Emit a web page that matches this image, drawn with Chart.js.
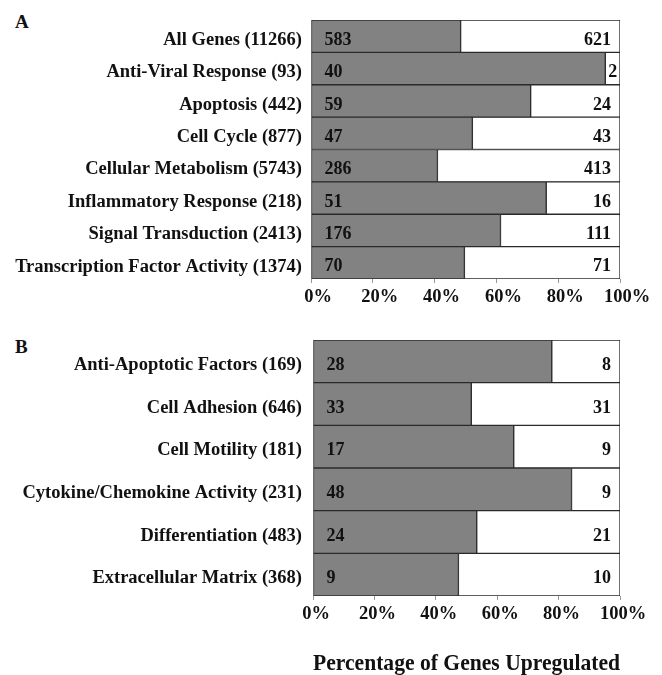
<!DOCTYPE html>
<html>
<head>
<meta charset="utf-8">
<script src="https://cdn.jsdelivr.net/npm/chart.js@4"></script>
<style>
  html, body { margin: 0; padding: 0; background: #fff; }
  #wrap { position: relative; width: 662px; height: 675px; }
  .panel { position: absolute; left: 0; width: 662px; }
  .tag { position: absolute; left: 15px; font: bold 19px "Liberation Serif", serif; color: #111; }
</style>
</head>
<body>
<div id="wrap">
  <div class="tag" style="top:11px">A</div>
  <div class="tag" style="top:336px">B</div>
  <div class="panel" style="top:0;height:320px"><canvas id="chartA"></canvas></div>
  <div class="panel" style="top:320px;height:355px"><canvas id="chartB"></canvas></div>
</div>
<script>
// panel A
const catsA = ['All Genes (11266)', 'Anti-Viral Response (93)', 'Apoptosis (442)', 'Cell Cycle (877)',
  'Cellular Metabolism (5743)', 'Inflammatory Response (218)', 'Signal Transduction (2413)',
  'Transcription Factor Activity (1374)'];
const grayA = [583, 40, 59, 47, 286, 51, 176, 70];
const whiteA = [621, 2, 24, 43, 413, 16, 111, 71];

// panel B
const catsB = ['Anti-Apoptotic Factors (169)', 'Cell Adhesion (646)', 'Cell Motility (181)',
  'Cytokine/Chemokine Activity (231)', 'Differentiation (483)', 'Extracellular Matrix (368)'];
const grayB = [28, 33, 17, 48, 24, 9];
const whiteB = [8, 31, 9, 9, 21, 10];

const xTicks = [0, 20, 40, 60, 80, 100];
const xTitle = 'Percentage of Genes Upregulated';

const serif = '"Liberation Serif", "Times New Roman", serif';

// counts written inside the bars
const countLabels = {
  id: 'countLabels',
  afterDatasetsDraw(chart) {
    const ctx = chart.ctx;
    ctx.save();
    ctx.font = 'bold 18px ' + serif;
    ctx.fillStyle = '#111';
    ctx.textBaseline = 'middle';
    chart.data.datasets.forEach((ds, di) => {
      const meta = chart.getDatasetMeta(di);
      meta.data.forEach((bar, i) => {
        const y = bar.y + 4;
        const txt = String(ds.counts[i]);
        if (di === 0) {
          ctx.textAlign = 'left';
          ctx.fillText(txt, bar.base + 13, y);
        } else {
          const w = ctx.measureText(txt).width;
          if (bar.x - bar.base < w + 12) {
            // narrow segment: centre the number in it
            ctx.textAlign = 'center';
            ctx.fillText(txt, (bar.x + bar.base) / 2, y);
          } else {
            ctx.textAlign = 'right';
            ctx.fillText(txt, bar.x - 9, y);
          }
        }
      });
    });
    ctx.restore();
  }
};

function makeChart(id, cats, gray, white, opts) {
  const pctGray = gray.map((g, i) => g / (g + white[i]) * 100);
  const pctWhite = gray.map((g, i) => white[i] / (g + white[i]) * 100);
  return new Chart(document.getElementById(id), {
    type: 'bar',
    data: {
      labels: cats,
      datasets: [
        { data: pctGray, counts: gray, backgroundColor: '#828282' },
        { data: pctWhite, counts: white, backgroundColor: '#ffffff' }
      ]
    },
    options: {
      indexAxis: 'y',
      responsive: true,
      maintainAspectRatio: false,
      animation: false,
      datasets: {
        bar: {
          borderColor: '#2a2a2a',
          borderWidth: 1,
          borderSkipped: false,
          barPercentage: 1,
          categoryPercentage: 1
        }
      },
      layout: { padding: { top: 20, right: 42, left: 0, bottom: 0 } },
      plugins: { legend: { display: false }, tooltip: { enabled: false } },
      scales: {
        y: {
          stacked: true,
          grid: { display: false },
          border: { display: false },
          afterFit(scale) { scale.width = opts.left; },
          ticks: {
            color: '#111',
            padding: opts.labelPad,
            labelOffset: 4,
            font: { family: serif, size: 18.5, weight: 'bold' }
          }
        },
        x: {
          stacked: true,
          min: 0,
          max: 100,
          afterBuildTicks(scale) { scale.ticks = xTicks.map(v => ({ value: v })); },
          afterFit(scale) { scale.height = opts.axisH; },
          grid: { drawOnChartArea: false, tickLength: 4, color: '#999' },
          border: { display: false },
          ticks: {
            color: '#111',
            padding: 3,
            maxRotation: 0,
            labelOffset: opts.tickShift,
            callback: v => v + '%',
            font: { family: serif, size: 18.5, weight: 'bold' }
          },
          title: {
            display: opts.title,
            text: xTitle,
            color: '#111',
            padding: { top: 34, bottom: -3 },
            font: { family: serif, size: 22.5, weight: 'bold' }
          }
        }
      }
    },
    plugins: [countLabels]
  });
}

makeChart('chartA', catsA, grayA, whiteA, { left: 311, labelPad: 1, axisH: 41, tickShift: 7, title: false });
makeChart('chartB', catsB, grayB, whiteB, { left: 313, labelPad: 3, axisH: 79, tickShift: 3, title: true });
</script>
</body>
</html>
